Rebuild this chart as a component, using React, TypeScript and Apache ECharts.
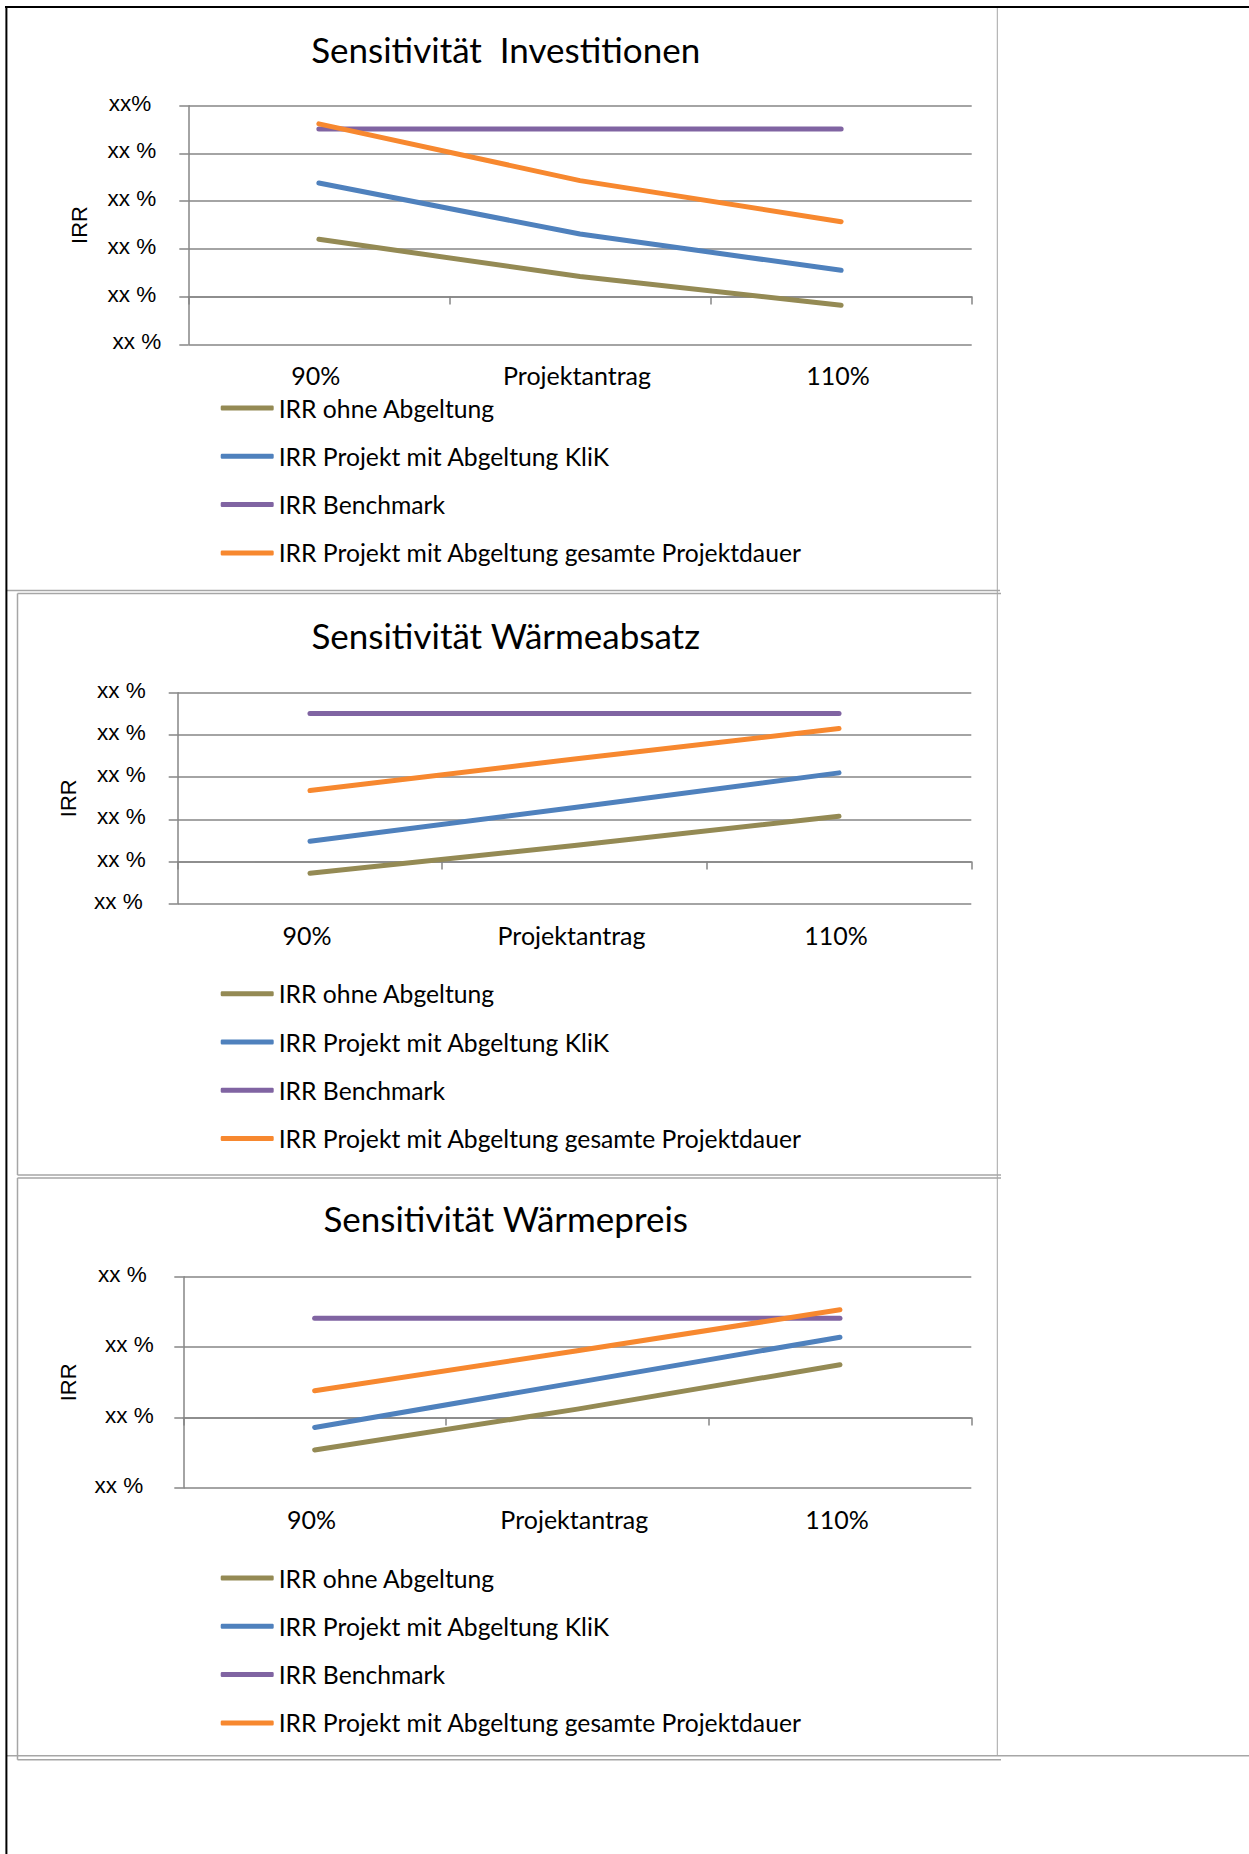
import React, { useEffect, useRef } from 'react';
import * as echarts from 'echarts';

// ---------- data ----------
const categories = ['90%', 'Projektantrag', '110%'];
const seriesNames = [
  'IRR ohne Abgeltung',
  'IRR Projekt mit Abgeltung KliK',
  'IRR Benchmark',
  'IRR Projekt mit Abgeltung gesamte Projektdauer',
];
const chartTitles = ['Sensitivität  Investitionen', 'Sensitivität Wärmeabsatz', 'Sensitivität Wärmepreis'];
const yAxisName = 'IRR';
const tickLabelPlain = 'xx %';
const tickLabelTopFirst = 'xx%';

// Sensitivität Investitionen
const invOhne = [1.2, 0.42, -0.18];
const invKlik = [2.38, 1.31, 0.55];
const invBench = [3.51, 3.51, 3.51];
const invGesamt = [3.62, 2.43, 1.57];

// Sensitivität Wärmeabsatz
const absOhne = [-0.28, 0.38, 1.07];
const absKlik = [0.48, 1.28, 2.1];
const absBench = [3.51, 3.51, 3.51];
const absGesamt = [1.68, 2.43, 3.15];

// Sensitivität Wärmepreis
const preisOhne = [-0.46, 0.12, 0.75];
const preisKlik = [-0.14, 0.5, 1.14];
const preisBench = [1.41, 1.41, 1.41];
const preisGesamt = [0.38, 0.95, 1.53];

const chartData = [
  [invOhne, invKlik, invBench, invGesamt],
  [absOhne, absKlik, absBench, absGesamt],
  [preisOhne, preisKlik, preisBench, preisGesamt],
];
const yRanges = [
  [-1, 4],
  [-1, 4],
  [-1, 2],
];

// ---------- styles / layout ----------
const seriesColors = ['#948A54', '#4F81BD', '#8064A2', '#F7882F'];
const CAL = "Lato, 'Open Sans', sans-serif";
const ARIAL = "'Liberation Sans', Arial, sans-serif";
const GRID_COLOR = '#868686';
const FRAME_GREY = '#a6a6a6';

// per-label extra right offset (px) keyed by value, mimicking the original's uneven label placement
const layouts = [
  {
    grid: { left: 188.3, top: 105.7, width: 783.4, height: 238.6 },
    labelMargin: 27, labelShift: { '-1': 0, '4': 10 } as Record<string, number>, defaultShift: 5,
    nameGap: 99, titleTop: 29, legendTop: 391.5,
  },
  {
    grid: { left: 177.7, top: 692.7, width: 793.6, height: 211 },
    labelMargin: 30, labelShift: { '-1': 5 } as Record<string, number>, defaultShift: 2,
    nameGap: 99, titleTop: 615, legendTop: 977.2,
  },
  {
    grid: { left: 183.3, top: 1276.7, width: 788, height: 211.3 },
    labelMargin: 29.5, labelShift: { '-1': 10.5, '2': 7 } as Record<string, number>, defaultShift: 0,
    nameGap: 104.7, titleTop: 1198, legendTop: 1561.5,
  },
];

function buildOption() {
  const grid: any[] = [];
  const xAxis: any[] = [];
  const yAxis: any[] = [];
  const series: any[] = [];
  const title: any[] = [];
  const legend: any[] = [];
  const shifts = [0, 2, 5, 7, 10, 10.5];

  layouts.forEach((l, k) => {
    grid.push({ ...l.grid, containLabel: false, outerBoundsMode: 'none' });
    const [yMin, yMax] = yRanges[k];
    const rich: Record<string, any> = {};
    shifts.forEach((s, i) => {
      rich['s' + i] = { fontFamily: ARIAL, fontSize: 22.5, color: '#000', padding: [0, s, 5, 0] };
    });
    yAxis.push({
      type: 'value',
      gridIndex: k,
      min: yMin,
      max: yMax,
      interval: 1,
      name: yAxisName,
      nameLocation: 'middle',
      nameGap: l.nameGap,
      nameTextStyle: { fontFamily: ARIAL, fontSize: 22, color: '#000', lineHeight: 20 },
      axisLine: { show: true, lineStyle: { color: GRID_COLOR, width: 1.5 } },
      axisTick: { show: true, length: 9, inside: false, lineStyle: { color: GRID_COLOR, width: 1.5 } },
      splitLine: { show: true, lineStyle: { color: GRID_COLOR, width: 1.5 } },
      axisLabel: {
        show: true,
        margin: l.labelMargin,
        fontFamily: ARIAL,
        fontSize: 22.5,
        color: '#000',
        rich,
        formatter: (v: number) => {
          const txt = k === 0 && v === yMax ? tickLabelTopFirst : tickLabelPlain;
          const key = String(v);
          const s = key in l.labelShift ? l.labelShift[key] : l.defaultShift;
          const idx = shifts.indexOf(s);
          return '{s' + (idx < 0 ? 0 : idx) + '|' + txt + '}';
        },
      },
    });
    // label axis (bottom of plot)
    xAxis.push({
      type: 'category',
      gridIndex: k,
      position: 'bottom',
      data: categories,
      boundaryGap: true,
      axisLine: { show: false, onZero: false },
      axisTick: { show: false },
      splitLine: { show: false },
      axisLabel: {
        show: true, interval: 0, margin: 17, fontFamily: CAL, fontSize: 25, color: '#000', lineHeight: 28,
        padding: [0, 6, 0, 0],
      },
    });
    // tick axis crossing at value 0
    xAxis.push({
      type: 'category',
      gridIndex: k,
      position: 'bottom',
      data: categories,
      boundaryGap: true,
      axisLine: { show: true, onZero: true, lineStyle: { color: GRID_COLOR, width: 1.5 } },
      axisTick: { show: true, length: 8, alignWithLabel: false, interval: 0, lineStyle: { color: GRID_COLOR, width: 1.5 } },
      splitLine: { show: false },
      axisLabel: { show: false },
    });
    chartData[k].forEach((vals, i) => {
      series.push({
        type: 'line',
        name: seriesNames[i],
        xAxisIndex: 2 * k,
        yAxisIndex: k,
        data: vals,
        symbol: 'none',
        showSymbol: false,
        color: seriesColors[i],
        lineStyle: { color: seriesColors[i], width: 5, cap: 'round', join: 'round' },
        emphasis: { disabled: true },
        silent: true,
        z: 2 + i,
      });
    });
    title.push({
      text: chartTitles[k],
      left: 505.7,
      top: l.titleTop,
      textAlign: 'center',
      padding: 0,
      textStyle: { fontFamily: CAL, fontSize: 35, fontWeight: 'normal', color: '#000', lineHeight: 40 },
    });
    legend.push({
      orient: 'vertical',
      left: 220.7,
      top: l.legendTop,
      padding: 0,
      itemGap: 15.3,
      itemWidth: 53,
      itemHeight: 5,
      icon: 'roundRect',
      selectedMode: false,
      data: seriesNames,
      itemStyle: { borderWidth: 0 },
      textStyle: { fontFamily: CAL, fontSize: 24.7, color: '#000', lineHeight: 28, padding: [0, 0, 5, 0] },
    });
  });

  const line = (x1: number, y1: number, x2: number, y2: number, stroke: string, w: number) => ({
    type: 'line',
    silent: true,
    shape: { x1, y1, x2, y2 },
    style: { stroke, lineWidth: w },
  });

  const graphic = {
    elements: [
      // table cell borders
      line(997.3, 7, 997.3, 1756, FRAME_GREY, 1),
      line(6, 1755.8, 1249, 1755.8, FRAME_GREY, 1.5),
      // chart 1 frame bottom
      line(6, 590.5, 1000, 590.5, FRAME_GREY, 1.5),
      // chart 2 frame
      line(17.5, 593.4, 1001, 593.4, FRAME_GREY, 1.5),
      line(17.5, 593.4, 17.5, 1175, FRAME_GREY, 1.5),
      line(17.5, 1175, 1001, 1175, FRAME_GREY, 1.5),
      // chart 3 frame
      line(17.5, 1177.9, 1001, 1177.9, FRAME_GREY, 1.5),
      line(17.5, 1177.9, 17.5, 1759.7, FRAME_GREY, 1.5),
      line(17.5, 1759.7, 1001, 1759.7, FRAME_GREY, 1.5),
      // black outer borders
      line(5, 7, 1249, 7, '#000', 2),
      line(6.4, 6, 6.4, 1854, '#000', 2),
    ],
  };

  return {
    animation: false,
    backgroundColor: '#ffffff',
    title,
    legend,
    grid,
    xAxis,
    yAxis,
    series,
    graphic,
  };
}

export default function App() {
  const ref = useRef<HTMLDivElement>(null);
  useEffect(() => {
    if (!ref.current) return;
    const chart = echarts.init(ref.current, null, { renderer: 'svg' });
    chart.setOption(buildOption() as any);
    return () => chart.dispose();
  }, []);
  return (
    <div
      ref={ref}
      style={{ position: 'absolute', left: 0, top: 0, width: 1249, height: 1854, background: '#fff' }}
    />
  );
}
